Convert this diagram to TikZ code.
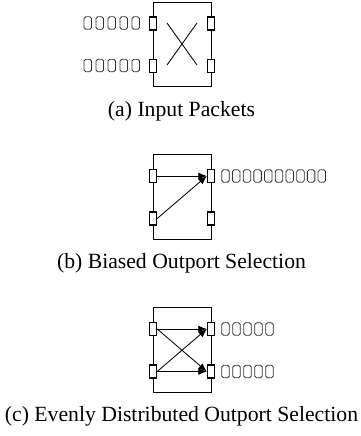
\documentclass[tikz,border=0pt]{standalone}
\usepackage{fontspec}
\setmainfont{Liberation Serif}
\usetikzlibrary{arrows.meta}
\tikzset{
  port/.style={draw, fill=white, line width=1.4pt, rectangle, inner sep=0pt,
    minimum width=7pt, minimum height=13pt},
  packet/.style={draw=black!80, line width=0.8pt, rectangle, rounded corners=1.8pt,
    inner sep=0pt, minimum width=7.5pt, minimum height=12.5pt},
  switchbox/.style={line width=0.95pt},
  wire/.style={line width=0.85pt},
  fwd/.style={line width=0.85pt, -{Latex[length=8.5pt,width=7pt]}},
  caption/.style={anchor=base, inner sep=0pt, font=\fontsize{21.7}{26}\selectfont}
}
\begin{document}
\begin{tikzpicture}[x=1pt,y=-1pt]
\useasboundingbox (0,0) rectangle (361,436);

% ---------- (a) input packets ----------
\draw[switchbox] (153,2) rectangle (211,86.5);
\node[port] (al1) at (153,23.5) {};
\node[port] (al2) at (153,66) {};
\node[port] (ar1) at (211,23.5) {};
\node[port] (ar2) at (211,66) {};
\coordinate (xa1) at (167,23);
\coordinate (xa2) at (197,23);
\coordinate (xa3) at (167,65);
\coordinate (xa4) at (197,65);
\draw[wire] (xa1) -- (xa4);
\draw[wire] (xa2) -- (xa3);
\foreach \i in {0,...,4} {
  \node[packet] (aq1\i) at (87.75+12*\i,23) {};
  \node[packet] (aq2\i) at (87.75+12*\i,65.5) {};
}
\node[caption] (capa) at (181.5,116) {(a) Input Packets};

% ---------- (b) biased outport selection ----------
\draw[switchbox] (153,154) rectangle (211,239);
\node[port] (bl1) at (153,176) {};
\node[port] (bl2) at (153,218.5) {};
\node[port] (br1) at (211,176) {};
\node[port] (br2) at (211,218.5) {};
\draw[fwd] (bl1.east) -- (br1.west);
\draw[fwd] (bl2.east) -- (br1.west);
\foreach \i in {0,...,9} {
  \node[packet] (bq\i) at (225.5+10.7*\i,176) {};
}
\node[caption] (capb) at (181.5,268) {(b) Biased Outport Selection};

% ---------- (c) evenly distributed outport selection ----------
\draw[switchbox] (153,307) rectangle (211,392);
\node[port] (cl1) at (153,329) {};
\node[port] (cl2) at (153,371.5) {};
\node[port] (cr1) at (211,329) {};
\node[port] (cr2) at (211,371.5) {};
\draw[fwd] (cl1.east) -- (cr1.west);
\draw[fwd] (cl1.east) -- (cr2.west);
\draw[fwd] (cl2.east) -- (cr1.west);
\draw[fwd] (cl2.east) -- (cr2.west);
\foreach \i in {0,...,4} {
  \node[packet] (cq1\i) at (225.5+11*\i,329) {};
  \node[packet] (cq2\i) at (225.5+11*\i,371.5) {};
}
\node[caption] (capc) at (181.5,421) {(c) Evenly Distributed Outport Selection};
\end{tikzpicture}
\end{document}
